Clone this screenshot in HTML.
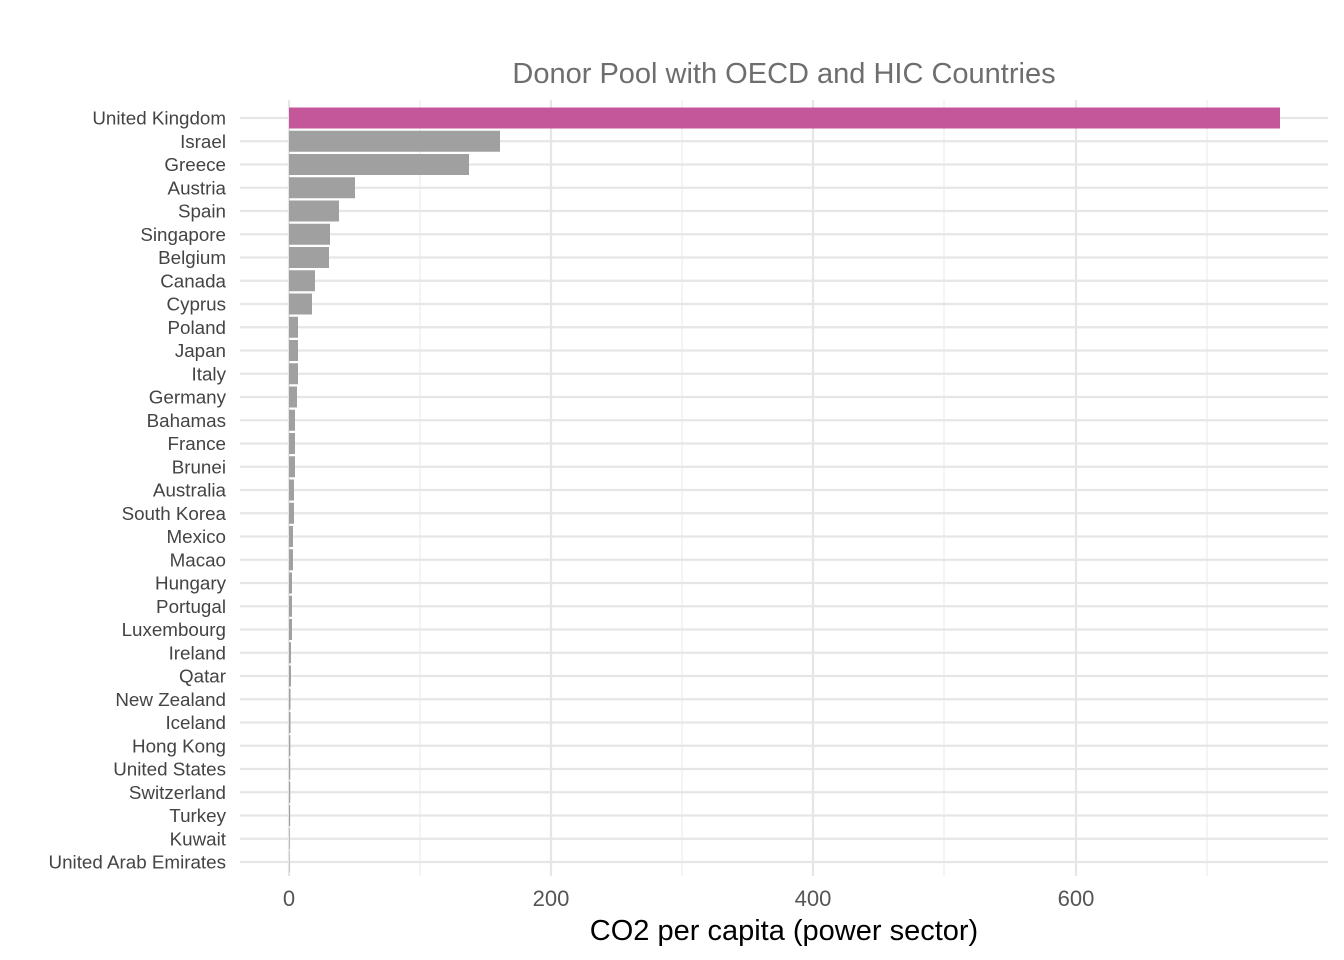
<!DOCTYPE html>
<html><head><meta charset="utf-8"><style>
html,body{margin:0;padding:0;background:#fff}
svg{display:block}
text{font-family:"Liberation Sans",sans-serif}
</style></head><body>
<svg width="1344" height="960" xmlns="http://www.w3.org/2000/svg">
<g stroke="#ebebeb" stroke-width="1.1">
<line x1="420" y1="100" x2="420" y2="876"/><line x1="682" y1="100" x2="682" y2="876"/>
<line x1="944" y1="100" x2="944" y2="876"/><line x1="1207" y1="100" x2="1207" y2="876"/>
</g>
<g stroke="#e6e6e6" stroke-width="2.2">
<line x1="240" x2="1328" y1="118" y2="118"/><line x1="240" x2="1328" y1="141.25" y2="141.25"/><line x1="240" x2="1328" y1="164.5" y2="164.5"/><line x1="240" x2="1328" y1="187.75" y2="187.75"/><line x1="240" x2="1328" y1="211" y2="211"/><line x1="240" x2="1328" y1="234.25" y2="234.25"/><line x1="240" x2="1328" y1="257.5" y2="257.5"/><line x1="240" x2="1328" y1="280.75" y2="280.75"/><line x1="240" x2="1328" y1="304" y2="304"/><line x1="240" x2="1328" y1="327.25" y2="327.25"/><line x1="240" x2="1328" y1="350.5" y2="350.5"/><line x1="240" x2="1328" y1="373.75" y2="373.75"/><line x1="240" x2="1328" y1="397" y2="397"/><line x1="240" x2="1328" y1="420.25" y2="420.25"/><line x1="240" x2="1328" y1="443.5" y2="443.5"/><line x1="240" x2="1328" y1="466.75" y2="466.75"/><line x1="240" x2="1328" y1="490" y2="490"/><line x1="240" x2="1328" y1="513.25" y2="513.25"/><line x1="240" x2="1328" y1="536.5" y2="536.5"/><line x1="240" x2="1328" y1="559.75" y2="559.75"/><line x1="240" x2="1328" y1="583" y2="583"/><line x1="240" x2="1328" y1="606.25" y2="606.25"/><line x1="240" x2="1328" y1="629.5" y2="629.5"/><line x1="240" x2="1328" y1="652.75" y2="652.75"/><line x1="240" x2="1328" y1="676" y2="676"/><line x1="240" x2="1328" y1="699.25" y2="699.25"/><line x1="240" x2="1328" y1="722.5" y2="722.5"/><line x1="240" x2="1328" y1="745.75" y2="745.75"/><line x1="240" x2="1328" y1="769" y2="769"/><line x1="240" x2="1328" y1="792.25" y2="792.25"/><line x1="240" x2="1328" y1="815.5" y2="815.5"/><line x1="240" x2="1328" y1="838.75" y2="838.75"/><line x1="240" x2="1328" y1="862" y2="862"/>
<line x1="289" y1="100" x2="289" y2="876"/><line x1="551" y1="100" x2="551" y2="876"/>
<line x1="813" y1="100" x2="813" y2="876"/><line x1="1076" y1="100" x2="1076" y2="876"/>
</g>
<rect x="289" y="107.5" width="991" height="21" fill="#c4569a"/>
<g fill="#a0a0a0">
<rect x="289" y="130.75" width="211" height="21"/>
<rect x="289" y="154" width="180" height="21"/>
<rect x="289" y="177.25" width="66" height="21"/>
<rect x="289" y="200.5" width="50" height="21"/>
<rect x="289" y="223.75" width="41" height="21"/>
<rect x="289" y="247" width="40" height="21"/>
<rect x="289" y="270.25" width="26" height="21"/>
<rect x="289" y="293.5" width="23" height="21"/>
<rect x="289" y="316.75" width="9" height="21"/>
<rect x="289" y="340" width="9" height="21"/>
<rect x="289" y="363.25" width="9" height="21"/>
<rect x="289" y="386.5" width="8" height="21"/>
<rect x="289" y="409.75" width="6" height="21"/>
<rect x="289" y="433" width="6" height="21"/>
<rect x="289" y="456.25" width="6" height="21"/>
<rect x="289" y="479.5" width="5" height="21"/>
<rect x="289" y="502.75" width="5" height="21"/>
<rect x="289" y="526" width="4" height="21"/>
<rect x="289" y="549.25" width="4" height="21"/>
<rect x="289" y="572.5" width="3" height="21"/>
<rect x="289" y="595.75" width="3" height="21"/>
<rect x="289" y="619" width="3" height="21"/>
<rect x="289" y="642.25" width="2" height="21"/>
<rect x="289" y="665.5" width="2" height="21"/>
<rect x="289" y="688.75" width="1.5" height="21"/>
<rect x="289" y="712" width="1.5" height="21"/>
<rect x="289" y="735.25" width="1.3" height="21"/>
<rect x="289" y="758.5" width="1.2" height="21"/>
<rect x="289" y="781.75" width="1.2" height="21"/>
<rect x="289" y="805" width="1.1" height="21"/>
<rect x="289" y="828.25" width="0.6" height="21"/>
<rect x="289" y="851.5" width="0.4" height="21"/>
</g>
<g font-size="18.8" fill="#444" text-anchor="end">
<text x="226" y="124.5">United Kingdom</text><text x="226" y="147.75">Israel</text><text x="226" y="171">Greece</text><text x="226" y="194.25">Austria</text><text x="226" y="217.5">Spain</text><text x="226" y="240.75">Singapore</text><text x="226" y="264">Belgium</text><text x="226" y="287.25">Canada</text><text x="226" y="310.5">Cyprus</text><text x="226" y="333.75">Poland</text><text x="226" y="357">Japan</text><text x="226" y="380.25">Italy</text><text x="226" y="403.5">Germany</text><text x="226" y="426.75">Bahamas</text><text x="226" y="450">France</text><text x="226" y="473.25">Brunei</text><text x="226" y="496.5">Australia</text><text x="226" y="519.75">South Korea</text><text x="226" y="543">Mexico</text><text x="226" y="566.25">Macao</text><text x="226" y="589.5">Hungary</text><text x="226" y="612.75">Portugal</text><text x="226" y="636">Luxembourg</text><text x="226" y="659.25">Ireland</text><text x="226" y="682.5">Qatar</text><text x="226" y="705.75">New Zealand</text><text x="226" y="729">Iceland</text><text x="226" y="752.25">Hong Kong</text><text x="226" y="775.5">United States</text><text x="226" y="798.75">Switzerland</text><text x="226" y="822">Turkey</text><text x="226" y="845.25">Kuwait</text><text x="226" y="868.5">United Arab Emirates</text>
</g>
<g font-size="22" fill="#555" text-anchor="middle">
<text x="289" y="906">0</text><text x="551" y="906">200</text><text x="813" y="906">400</text><text x="1076" y="906">600</text>
</g>
<text x="784" y="940" font-size="29" text-anchor="middle" fill="#000">CO2 per capita (power sector)</text>
<text x="784" y="83" font-size="29" text-anchor="middle" fill="#6e6e6e">Donor Pool with OECD and HIC Countries</text>
</svg>
</body></html>
